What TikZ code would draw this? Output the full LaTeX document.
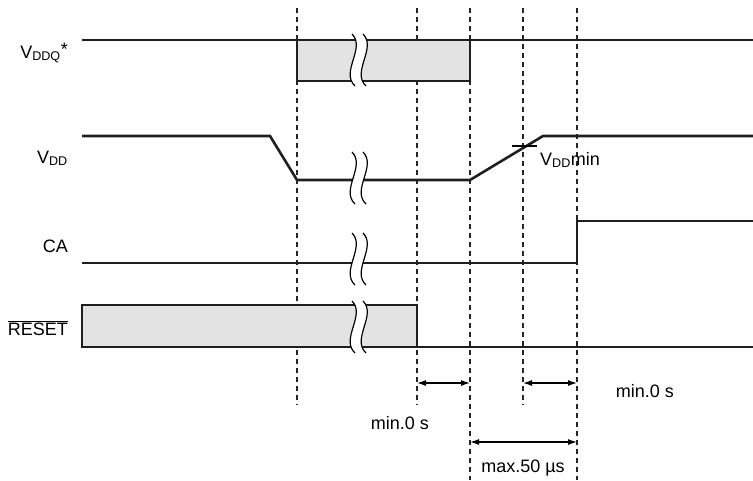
\documentclass[tikz,border=0pt]{standalone}
\usepackage{fontspec}
\setmainfont{Liberation Sans}
\usetikzlibrary{arrows.meta}
\tikzset{
  sig/.style={line width=2.6pt, draw=black!88},
  boxed/.style={sig, fill=black!11},
  guide/.style={line width=1.2pt, dash pattern=on 5pt off 4pt, black!85},
  dim/.style={line width=1.2pt, {Latex[length=9pt,width=6pt]}-{Latex[length=9pt,width=6pt]}},
  lbl/.style={anchor=base east, inner sep=0pt, font=\fontsize{18}{21}\selectfont},
  note/.style={inner sep=0pt, font=\fontsize{18}{21}\selectfont},
}
% break mark on a signal, centred at (#1,#2)
\newcommand\sigbreak[2]{%
  \fill[white] (#1,#2-26) .. controls (#1+14,#2-12) and (#1-12,#2+12) .. (#1+3,#2+26)
    -- (#1+14,#2+26) .. controls (#1-1,#2+12) and (#1+25,#2-12) .. (#1+11,#2-26) -- cycle;
  \draw[line width=1.2pt] (#1,#2-26) .. controls (#1+14,#2-12) and (#1-12,#2+12) .. (#1+3,#2+26);
  \draw[line width=1.2pt] (#1+11,#2-26) .. controls (#1+25,#2-12) and (#1-1,#2+12) .. (#1+14,#2+26);
}
\begin{document}
\begin{tikzpicture}[x=1pt,y=-1pt]
  \useasboundingbox (0,0) rectangle (753,480);
  % time marks
  \foreach \t/\b [count=\i] in {297/405,417/405,470/480,523/405,577/480} {
    \coordinate (t\i) at (\t,8);
    \coordinate (b\i) at (\t,\b);
    \draw[guide] (t\i) -- (b\i);
  }
  % VDDQ
  \draw[boxed] (297,40) rectangle (470,81);
  \draw[sig] (82,40) -- (753,40);
  \sigbreak{352}{60}
  \node[lbl] (vddq) at (68,58) {V\textsubscript{DDQ}\raisebox{3pt}{*}};
  % VDD
  \draw[sig] (82,136) -- (270,136) -- (297,180) -- (470,180) -- (543,136) -- (753,136);
  \draw[line width=1.1pt] (512,146) -- (537,146);
  \node[lbl, anchor=base west] (vddmin) at (540,165) {V\textsubscript{DD}min};
  \sigbreak{352}{178}
  \node[lbl] (vdd) at (68,163) {V\textsubscript{DD}};
  % CA
  \draw[sig] (82,263) -- (577,263) -- (577,221) -- (753,221);
  \sigbreak{352}{259}
  \node[lbl] (ca) at (68,252) {CA};
  % RESET
  \draw[boxed] (82,305) rectangle (417,347);
  \draw[sig] (417,347) -- (753,347);
  \sigbreak{352}{327}
  \node[lbl] (reset) at (68,335) {$\overline{\hbox{RESET}}$};
  % timing
  \coordinate (a2) at (417,383);
  \coordinate (a3) at (470,383);
  \coordinate (a4) at (523,383);
  \coordinate (a5) at (577,383);
  \coordinate (m3) at (470,442);
  \coordinate (m5) at (577,442);
  \draw[dim] (a2) -- (a3);
  \draw[dim] (a4) -- (a5);
  \draw[dim] (m3) -- (m5);
  \node[note] (tra) at (400,423) {min.0 s};
  \node[note] (trb) at (645,391) {min.0 s};
  \node[note] (tvd) at (523,468) {max.50 µs};
\end{tikzpicture}
\end{document}
